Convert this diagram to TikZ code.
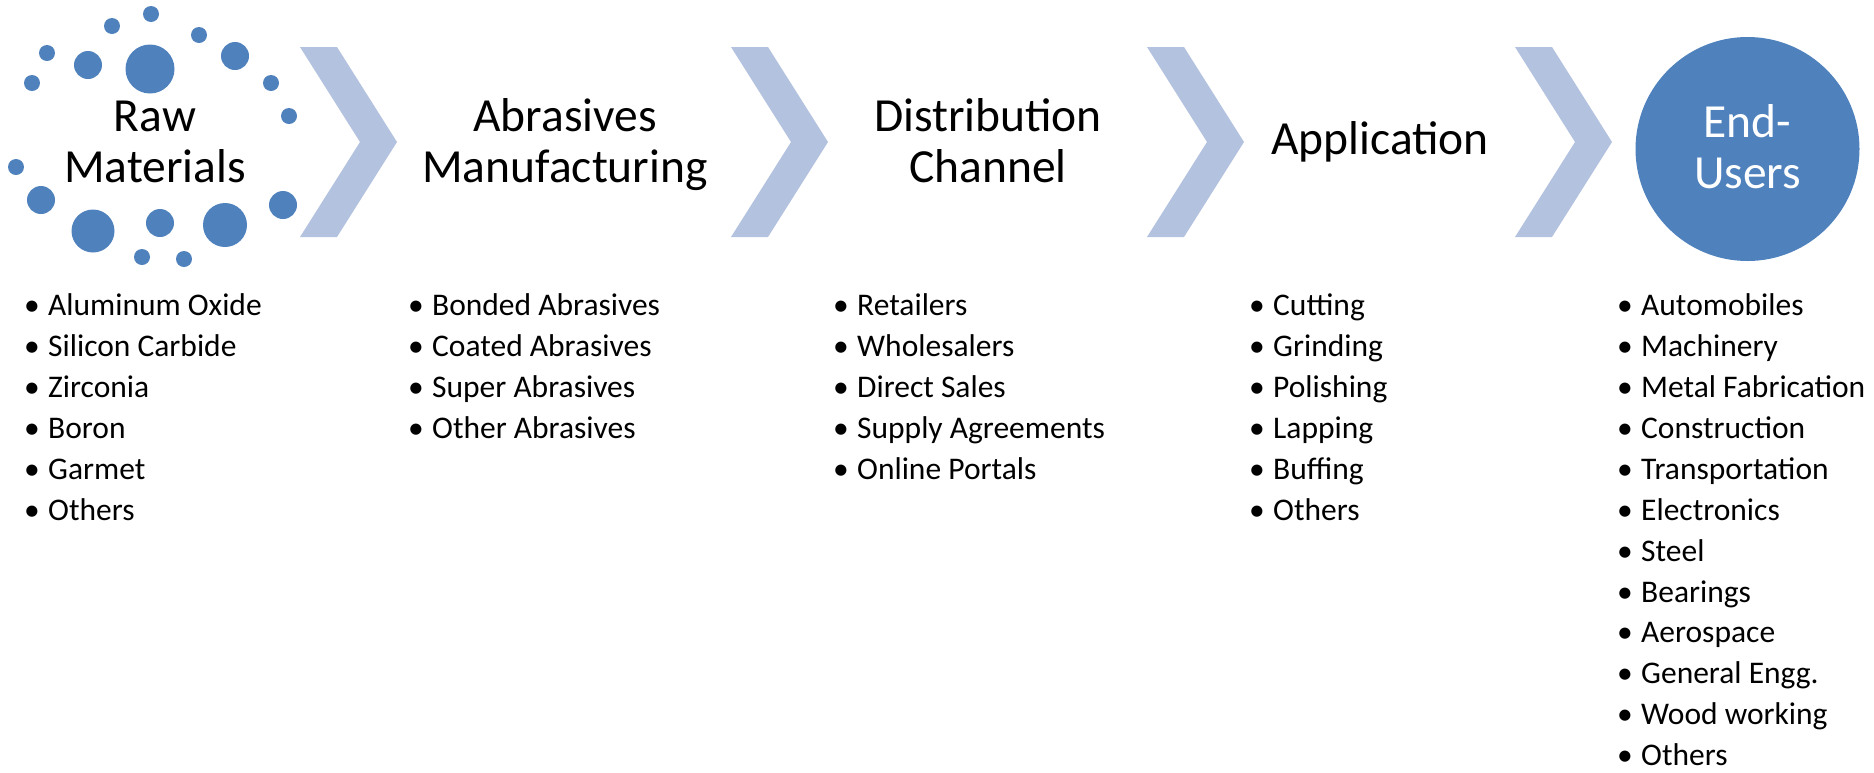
\documentclass[tikz,border=0pt]{standalone}
\usepackage{fontspec}
\setmainfont{Carlito}
\usetikzlibrary{positioning}

\definecolor{dotblue}{RGB}{79,129,189}
\definecolor{chevblue}{RGB}{179,194,222}

\tikzset{
    head/.style={font=\fontsize{47.5}{51}\selectfont, align=center, inner sep=0pt, anchor=base},
    item/.style={font=\fontsize{31.5}{41}\selectfont, anchor=base west, inner sep=0pt},
    dot/.style={fill=dotblue, draw=none},
}
\newcommand{\blt}{\makebox[24pt][l]{\textbullet}}

\begin{document}
\begin{tikzpicture}[x=1pt,y=-1pt]
            \useasboundingbox (0,0) rectangle (1874,772);

            % dots round the first heading
            \foreach \dx/\dy/\dr in {151/14/8, 112/26/8, 199/35/8, 47/53/8, 88/65/14,
                150/69/24.5, 235/56/14, 32/83/8, 271/83/8, 289/116/8, 16/167/8,
                41/200/14, 93/231/21.5, 160/223/14, 225/225/22, 283/205/14,
                142/257/8, 184/259/8}
                \fill[dot] (\dx,\dy) circle (\dr);

            % chevrons
            \foreach \cx in {300,731,1147,1515}
                \fill[chevblue] (\cx,47) -- ++(37,0) -- ++(60,95) -- ++(-60,95)
                    -- ++(-37,0) -- ++(60,-95) -- cycle;

            \node[circle, dot, minimum size=224pt, inner sep=0pt] (endusers) at (1747.5,149) {};

            % base anchor = baseline of the last line
            \node[head] (raw) at (155,182) {Raw\\Materials};
            \node[head] (manu) at (565,182) {Abrasives\\Manufacturing};
            \node[head] (dist) at (988,182) {Distribution\\Channel};
            \node[head] (appl) at (1380,154) {Application};
            \node[head, text=white] (endtxt) at (1747.5,188) {End-\\Users};

            % lists
            \foreach \t [count=\i] in {Aluminum Oxide, Silicon Carbide, Zirconia, Boron, Garmet, Others}
                \node[item] (raw-\i) at (24,315.7+40.9*\i-40.9) {\blt\t};
            \foreach \t [count=\i] in {Bonded Abrasives, Coated Abrasives, Super Abrasives, Other Abrasives}
                \node[item] (manu-\i) at (408,315.7+40.9*\i-40.9) {\blt\t};
            \foreach \t [count=\i] in {Retailers, Wholesalers, Direct Sales, Supply Agreements, Online Portals}
                \node[item] (dist-\i) at (833,315.7+40.9*\i-40.9) {\blt\t};
            \foreach \t [count=\i] in {Cutting, Grinding, Polishing, Lapping, Buffing, Others}
                \node[item] (appl-\i) at (1249,315.7+40.9*\i-40.9) {\blt\t};
            \foreach \t [count=\i] in {Automobiles, Machinery, Metal Fabrication, Construction,
                Transportation, Electronics, Steel, Bearings, Aerospace, General Engg.,
                Wood working, Others}
                \node[item] (end-\i) at (1617,315.7+40.9*\i-40.9) {\blt\t};
        \end{tikzpicture}
\end{document}
